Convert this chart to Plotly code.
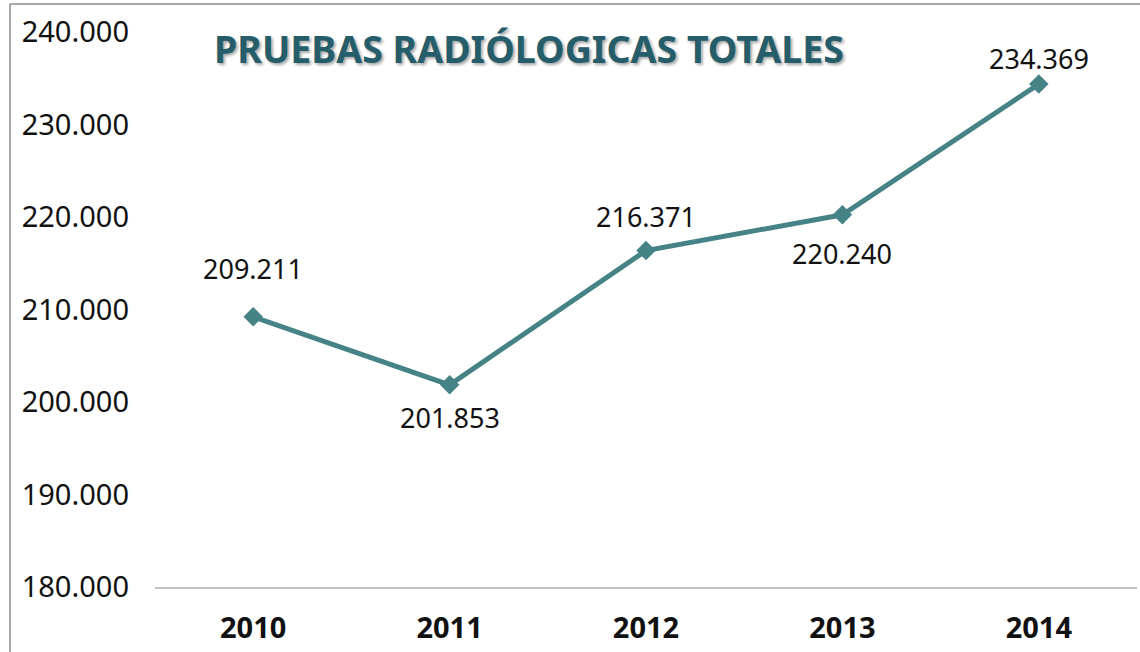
import plotly.graph_objects as go

years = ["2010", "2011", "2012", "2013", "2014"]
values = [209211, 201853, 216371, 220240, 234369]
value_labels = ["209.211", "201.853", "216.371", "220.240", "234.369"]
label_shift = [48, -33, 34, -39, 26]
title_text = "PRUEBAS RADIÓLOGICAS TOTALES"
y_ticks = [180000, 190000, 200000, 210000, 220000, 230000, 240000]

line_color = "#468387"
font_family = "Noto Sans, Open Sans, DejaVu Sans, sans-serif"

W, H = 1140, 652
L, R, T, B = 155, 3, 32, 65
plot_w = W - L - R
plot_h = H - T - B

fig = go.Figure()
fig.add_trace(go.Scatter(
    x=years, y=values, mode="lines+markers",
    line=dict(color=line_color, width=5),
    marker=dict(symbol="diamond", size=15, color=line_color),
    hoverinfo="skip", showlegend=False,
))

for i, (v, lab, sh) in enumerate(zip(values, value_labels, label_shift)):
    fig.add_annotation(x=i, y=v, text=lab, showarrow=False, yshift=sh,
                       font=dict(family=font_family, size=27, color="#111111"))

# outer chart frame (only left and top edges fall inside the picture)
bx0 = (10 - L) / plot_w
bx1 = (W - L) / plot_w
by1 = 1 + (T - 4) / plot_h
by0 = -B / plot_h
frame = dict(color="#8c8c8c", width=1.5)
fig.add_shape(type="line", xref="paper", yref="paper",
              x0=bx0, x1=bx0, y0=by0, y1=by1, line=frame, layer="below")
fig.add_shape(type="line", xref="paper", yref="paper",
              x0=bx0, x1=bx1, y0=by1, y1=by1, line=frame, layer="below")

fig.update_layout(
    width=W, height=H,
    margin=dict(l=L, r=R, t=T, b=B),
    paper_bgcolor="white", plot_bgcolor="white",
    separators=",.",
    title=dict(text=title_text, x=529 / W, xanchor="center",
               y=1 - 50 / H, yanchor="middle", automargin=False,
               font=dict(family=font_family, size=37.5, color="#255E6A",
                         weight="bold", shadow="2px 2px 3px rgba(0,0,0,0.35)")),
    xaxis=dict(type="category", range=[-0.5, 4.5], automargin=False,
               showgrid=False, showline=True, linecolor="#c4c4c4", linewidth=1.5,
               ticks="", ticklabelstandoff=14, zeroline=False,
               tickfont=dict(family=font_family, size=29, color="#111111", weight="bold")),
    yaxis=dict(range=[180000, 240000], tickvals=y_ticks, tickformat=",d",
               automargin=False,
               showgrid=False, zeroline=False, showline=False, ticks="",
               ticklabelstandoff=25,
               tickfont=dict(family=font_family, size=29, color="#111111")),
)

fig.write_html(
    "out.html", config={"displayModeBar": False},
    post_script=("document.body.style.margin='0px';"
                 "document.body.style.overflow='hidden';"
                 "document.documentElement.style.overflow='hidden';"),
)
